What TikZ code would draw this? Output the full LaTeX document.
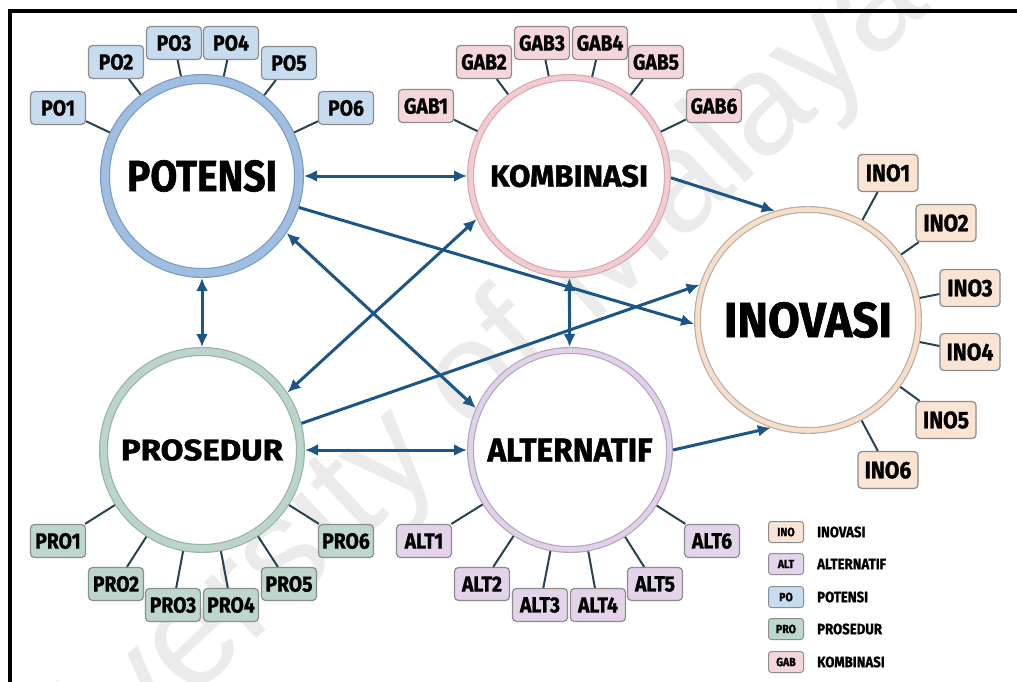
\documentclass[tikz,border=0pt]{standalone}
\usepackage{fontspec}
\usetikzlibrary{arrows.meta}
\newfontfamily\heavyfont{Fira Sans}[BoldFeatures={FakeBold=1.4}]
\newfontfamily\condfont{Fira Sans}[BoldFeatures={FakeBold=1.0, FakeStretch=0.88}]
\newfontfamily\wmfont{Liberation Sans}

\definecolor{poring}{RGB}{160,190,224}
\definecolor{poedge}{RGB}{120,155,200}
\definecolor{pofill}{RGB}{200,220,240}
\definecolor{gabring}{RGB}{243,204,210}
\definecolor{gabedge}{RGB}{215,170,178}
\definecolor{gabfill}{RGB}{245,214,218}
\definecolor{inoring}{RGB}{247,222,200}
\definecolor{inoedge}{RGB}{185,175,168}
\definecolor{inofill}{RGB}{250,228,212}
\definecolor{proring}{RGB}{188,212,202}
\definecolor{proedge}{RGB}{150,180,170}
\definecolor{profill}{RGB}{190,215,205}
\definecolor{altring}{RGB}{226,210,232}
\definecolor{altedge}{RGB}{180,165,192}
\definecolor{altfill}{RGB}{228,212,234}
\definecolor{arrowblue}{RGB}{28,86,134}
\definecolor{stem}{RGB}{40,66,80}
\definecolor{boxedge}{RGB}{140,140,140}

% label scaled to an exact width and cap height
\newcommand{\hublabel}[3]{\resizebox{#1pt}{#2pt}{\heavyfont\bfseries #3}}

\tikzset{
  hub/.style={circle, inner sep=0pt, fill=white, line width=1.2pt},
  tagbox/.style={rectangle, rounded corners=4pt, draw=boxedge, line width=1.2pt,
    minimum width=55pt, minimum height=33pt, inner sep=1pt,
    font=\condfont\bfseries\fontsize{22}{22}\selectfont},
  inobox/.style={tagbox, fill=inofill, minimum width=60pt, minimum height=37pt,
    font=\condfont\bfseries\fontsize{24}{24}\selectfont},
  keybox/.style={rectangle, rounded corners=3pt, draw=boxedge, line width=1pt,
    minimum width=35pt, minimum height=21pt, inner sep=1pt,
    font=\condfont\bfseries\fontsize{12}{12}\selectfont},
  keytext/.style={anchor=west, inner sep=0pt, font=\condfont\bfseries\fontsize{15}{15}\selectfont},
  stemline/.style={draw=stem, line width=2pt},
  biarrow/.style={draw=arrowblue, line width=3pt,
    arrows={Latex[length=13pt,width=12pt]-Latex[length=13pt,width=12pt]}},
  onearrow/.style={draw=arrowblue, line width=3pt,
    arrows={-Latex[length=13pt,width=12pt]}},
}

\begin{document}
\begin{tikzpicture}[x=1pt,y=-1pt]
\useasboundingbox (0,0) rectangle (1017,682);
\fill[white] (0,0) rectangle (1017,682);

% faint watermark behind everything
\node[rotate=43, anchor=base east, inner sep=0pt, text=black!8,
      font=\wmfont\fontsize{145}{145}\selectfont] (wm) at (933,8) {University of Malaya};

% frame along the top and left edges
\draw[line width=4pt] (10,682) -- (10,11) -- (1017,11);

% hubs
\node[hub, minimum size=194pt, draw=poedge, double=poring, double distance=7.6pt, outer sep=5pt]
  (pot) at (202,176) {\hublabel{150}{31}{POTENSI}};
\node[hub, minimum size=197pt, draw=gabedge, double=gabring, double distance=4.6pt, outer sep=3.5pt]
  (kom) at (569,176) {\hublabel{158}{22}{KOMBINASI}};
\node[hub, minimum size=221pt, draw=inoedge, double=inoring, double distance=4.6pt, outer sep=3.5pt]
  (ino) at (808,320) {\hublabel{168}{35}{INOVASI}};
\node[hub, minimum size=197pt, draw=proedge, double=proring, double distance=6.6pt, outer sep=4.5pt]
  (pro) at (202,450) {\hublabel{162}{21}{PROSEDUR}};
\node[hub, minimum size=199pt, draw=altedge, double=altring, double distance=4.6pt, outer sep=3.5pt]
  (alt) at (570,450) {\hublabel{165}{23}{ALTERNATIF}};

% indicator boxes
\node[tagbox, fill=pofill] (po1) at (58,108) {PO1};
\node[tagbox, fill=pofill] (po2) at (116,62) {PO2};
\node[tagbox, fill=pofill] (po3) at (174,43) {PO3};
\node[tagbox, fill=pofill] (po4) at (231,43) {PO4};
\node[tagbox, fill=pofill] (po5) at (289,63) {PO5};
\node[tagbox, fill=pofill] (po6) at (346,108) {PO6};

\node[tagbox, fill=gabfill] (gab1) at (426,106) {GAB1};
\node[tagbox, fill=gabfill] (gab2) at (484,62) {GAB2};
\node[tagbox, fill=gabfill] (gab3) at (542,43) {GAB3};
\node[tagbox, fill=gabfill] (gab4) at (600,43) {GAB4};
\node[tagbox, fill=gabfill] (gab5) at (656,62) {GAB5};
\node[tagbox, fill=gabfill] (gab6) at (714,106) {GAB6};

\node[inobox] (ino1) at (888,173) {INO1};
\node[inobox] (ino2) at (946,223) {INO2};
\node[inobox] (ino3) at (970,288) {INO3};
\node[inobox] (ino4) at (970,352) {INO4};
\node[inobox] (ino5) at (946,420) {INO5};
\node[inobox] (ino6) at (888,470) {INO6};

\node[tagbox, fill=profill] (pro1) at (58,541) {PRO1};
\node[tagbox, fill=profill] (pro2) at (116,584) {PRO2};
\node[tagbox, fill=profill] (pro3) at (173,605) {PRO3};
\node[tagbox, fill=profill] (pro4) at (231,605) {PRO4};
\node[tagbox, fill=profill] (pro5) at (289,584) {PRO5};
\node[tagbox, fill=profill] (pro6) at (346,541) {PRO6};

\node[tagbox, fill=altfill] (alt1) at (424,541) {ALT1};
\node[tagbox, fill=altfill] (alt2) at (482,584) {ALT2};
\node[tagbox, fill=altfill] (alt3) at (540,605) {ALT3};
\node[tagbox, fill=altfill] (alt4) at (598,605) {ALT4};
\node[tagbox, fill=altfill] (alt5) at (655,584) {ALT5};
\node[tagbox, fill=altfill] (alt6) at (712,541) {ALT6};

% stems from boxes to hubs
\foreach \i in {1,...,6} {
  \draw[stemline] (po\i) -- (pot);
  \draw[stemline] (gab\i) -- (kom);
  \draw[stemline] (ino\i) -- (ino);
  \draw[stemline] (pro\i) -- (pro);
  \draw[stemline] (alt\i) -- (alt);
}

% relations between hubs
\draw[biarrow] (pot) -- (kom);
\draw[biarrow] (pot) -- (pro);
\draw[biarrow] (pro) -- (alt);
\draw[biarrow] (kom) -- (alt);
\draw[biarrow] (pot.-34) -- (alt.156);
\draw[biarrow] (pro.34) -- (kom.205);
\draw[onearrow] (pot.-18) -- (ino.182);
\draw[onearrow] (pro.15) -- (ino.162);
\draw[onearrow] (kom.-1) -- (ino.107);
\draw[onearrow] (alt.0) -- (ino.251);

% key
\node[keybox, fill=inofill] (k1) at (786,532) {INO};
\node[keybox, fill=altfill] (k2) at (786,564) {ALT};
\node[keybox, fill=pofill]  (k3) at (786,597) {PO};
\node[keybox, fill=profill] (k4) at (786,629) {PRO};
\node[keybox, fill=gabfill] (k5) at (786,662) {GAB};
\node[keytext] (t1) at (817,532) {INOVASI};
\node[keytext] (t2) at (817,564) {ALTERNATIF};
\node[keytext] (t3) at (817,597) {POTENSI};
\node[keytext] (t4) at (817,629) {PROSEDUR};
\node[keytext] (t5) at (817,662) {KOMBINASI};
\end{tikzpicture}
\end{document}
